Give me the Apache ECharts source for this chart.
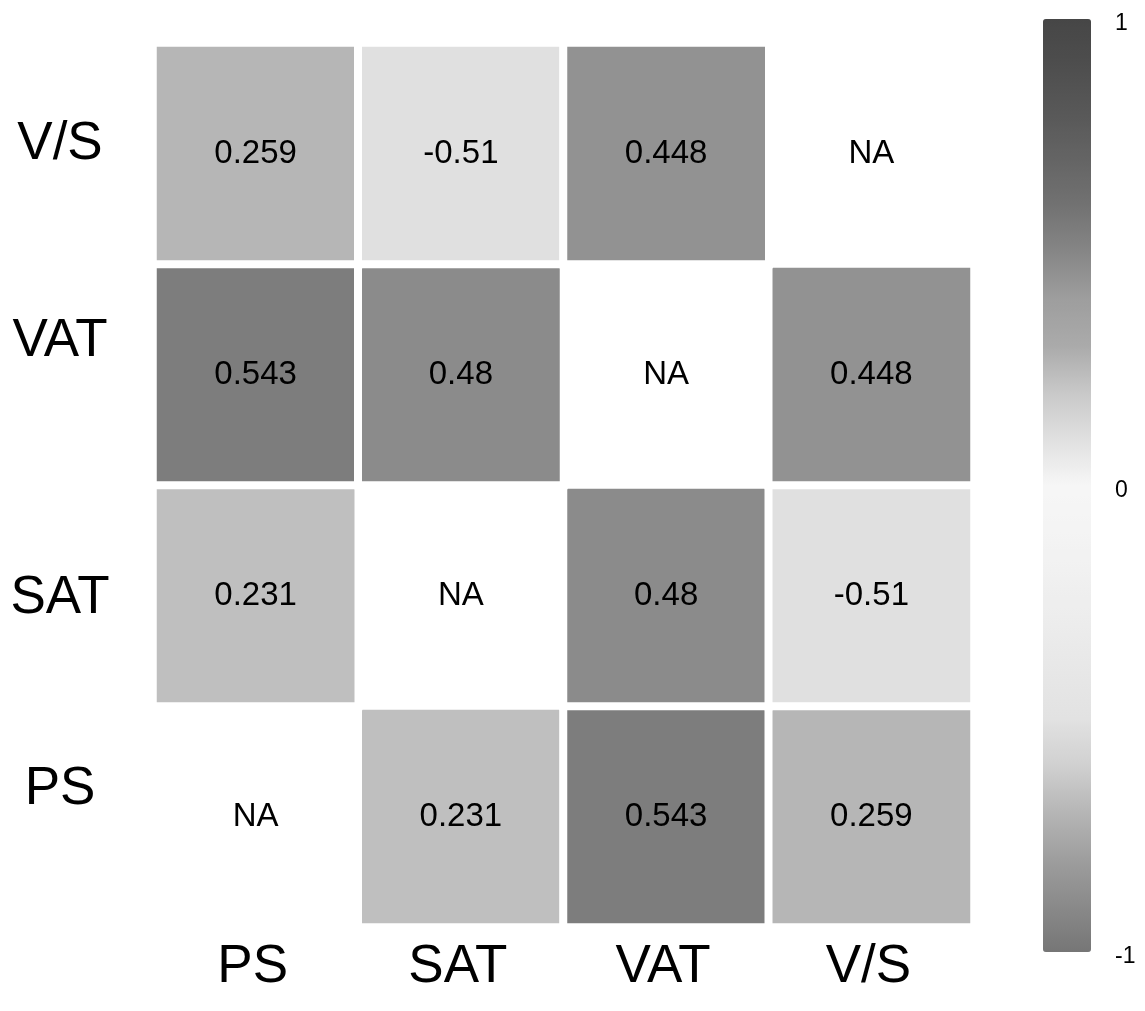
<!DOCTYPE html>
<html>
<head>
<meta charset="utf-8">
<script src="https://cdn.jsdelivr.net/npm/echarts@6/dist/echarts.min.js"></script>
<style>
html,body{margin:0;padding:0;background:#fff;}
#chart{width:1145px;height:1011px;}
</style>
</head>
<body>
<div id="chart"></div>
<script>
// ---- data ----
const xCategories = ['PS', 'SAT', 'VAT', 'V/S'];
const yCategories = ['PS', 'SAT', 'VAT', 'V/S']; // bottom to top
// correlation rows (null = NA), columns in xCategories order
const rowPS  = [null, 0.231, 0.543, 0.259];
const rowSAT = [0.231, null, 0.48, -0.51];
const rowVAT = [0.543, 0.48, null, 0.448];
const rowVS  = [0.259, -0.51, 0.448, null];
const colorbarTicks = [-1, 0, 1];
const naLabel = 'NA';

const rows = [rowPS, rowSAT, rowVAT, rowVS];
const cellData = [];
const naData = [];
rows.forEach((row, yi) => {
  row.forEach((v, xi) => {
    if (v === null) naData.push([xi, yi]);
    else cellData.push([xi, yi, v]);
  });
});

const FONT = '"Liberation Sans", Arial, Helvetica, sans-serif';
const AX = 53;
const labelRich = {
  vs:  {fontSize: AX, fontFamily: FONT, color: '#000', padding: [5, 0, 24, 0]},
  vat: {fontSize: AX, fontFamily: FONT, color: '#000', padding: [5, 0, 72, 0]},
  sat: {fontSize: AX, fontFamily: FONT, color: '#000', padding: [5, 0, 0, 0]},
  ps:  {fontSize: AX, fontFamily: FONT, color: '#000', padding: [5, 0, 60, 0]}
};
const richKey = {'V/S': 'vs', 'VAT': 'vat', 'SAT': 'sat', 'PS': 'ps'};

function g(v){ const h = v.toString(16).padStart(2,'0'); return '#' + h + h + h; }
const grayStops = [118,138,158,182,208,226,231,236,240,244,246,224,200,170,158,134,114,100,88,78,70];

const chart = echarts.init(document.getElementById('chart'), null, {renderer: 'canvas'});
chart.setOption({
  backgroundColor: '#fff',
  animation: false,
  grid: [
    {left: 153, right: 171, top: 43, bottom: 84},
    {left: 1043, width: 48, top: 19, height: 933}
  ],
  xAxis: [
    {
      type: 'category', data: xCategories, gridIndex: 0,
      axisLine: {show: false}, axisTick: {show: false}, splitLine: {show: false},
      axisLabel: {fontSize: AX, fontFamily: FONT, color: '#000', margin: 14, padding: [0, 6, 0, 0]}
    },
    {type: 'value', gridIndex: 1, show: false, min: 0, max: 1}
  ],
  yAxis: [
    {
      type: 'category', data: yCategories, gridIndex: 0,
      axisLine: {show: false}, axisTick: {show: false}, splitLine: {show: false},
      axisLabel: {
        align: 'center', margin: 93,
        formatter: v => '{' + richKey[v] + '|' + v + '}',
        rich: labelRich
      }
    },
    {
      type: 'value', gridIndex: 1, min: -1, max: 1, interval: 1, position: 'right',
      axisLine: {show: false}, axisTick: {show: false}, splitLine: {show: false},
      axisLabel: {
        margin: 24,
        formatter: v => colorbarTicks.indexOf(v) >= 0 ? '{t|' + v + '}' : '',
        rich: {t: {fontSize: 23, fontFamily: FONT, color: '#000', padding: [10, 0, 0, 0]}}
      }
    }
  ],
  visualMap: {
    type: 'continuous',
    min: -1, max: 1,
    seriesIndex: 0,
    calculable: false,
    realtime: false,
    orient: 'vertical',
    left: 1043, top: 19,
    padding: 0,
    itemWidth: 48, itemHeight: 933,
    text: null,
    showLabel: false,
    inRange: {color: grayStops.map(g)}
  },
  series: [
    {
      type: 'heatmap',
      xAxisIndex: 0, yAxisIndex: 0,
      data: cellData,
      itemStyle: {borderColor: '#fff', borderWidth: 8},
      label: {
        show: true, fontSize: 33, fontFamily: FONT, color: '#000',
        formatter: p => String(p.value[2])
      },
      emphasis: {disabled: true}
    },
    {
      type: 'scatter',
      xAxisIndex: 0, yAxisIndex: 0,
      data: naData,
      symbolSize: 1,
      itemStyle: {color: 'rgba(255,255,255,0)', opacity: 1},
      label: {
        show: true, position: 'inside', fontSize: 33, fontFamily: FONT, color: '#000',
        opacity: 1, textBorderWidth: 0,
        formatter: naLabel
      },
      silent: true
    }
  ]
});
</script>
</body>
</html>
